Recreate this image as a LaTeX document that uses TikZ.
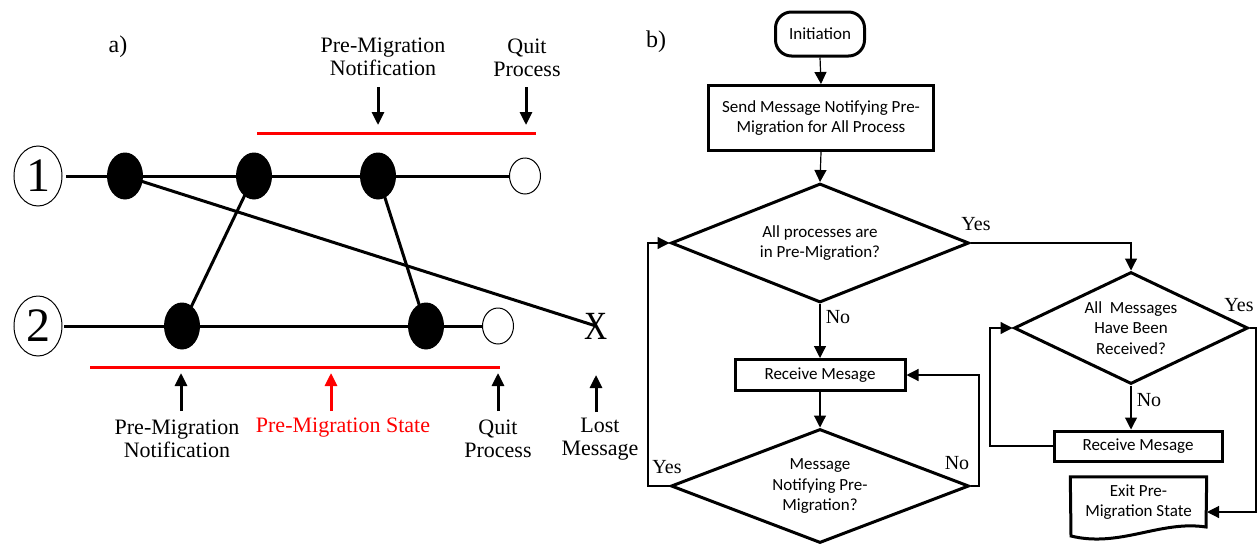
\documentclass[tikz,border=0pt]{standalone}
\usepackage{fontspec}
\setmainfont{Liberation Serif}
\newfontfamily\calibfont{Carlito}
\usetikzlibrary{arrows.meta,shapes.geometric}
\tikzset{
  thk/.style={line width=3pt},
  fdot/.style={ellipse, fill=black, minimum width=36pt, minimum height=47pt, inner sep=0pt},
  odot/.style={ellipse, draw, line width=1pt, fill=white, minimum width=31pt, minimum height=36pt, inner sep=0pt},
  pcirc/.style={ellipse, draw, line width=1pt, minimum width=48pt, minimum height=60pt, inner sep=0pt, font=\fontsize{48}{48}\selectfont},
  lab/.style={font=\fontsize{22}{23}\selectfont, align=center, inner sep=0pt},
  parr/.style={line width=3pt, -{Triangle[length=13pt,width=12pt]}},
  fbox/.style={draw, line width=3pt, rectangle, inner sep=0pt, align=center, font=\calibfont\fontsize{17}{20.5}\selectfont},
  fdia/.style={draw, line width=3pt, diamond, inner sep=0pt, align=center, font=\calibfont\fontsize{17}{20.5}\selectfont},
  conn/.style={line width=1.2pt, -{Triangle[length=12pt,width=12pt]}},
  yn/.style={font=\fontsize{20}{20}\selectfont, inner sep=0pt},
}
\begin{document}
\begin{tikzpicture}[x=1pt,y=-1pt]
\useasboundingbox (0,0) rectangle (1257,546);
% ---------------- part a ----------------
\node[font=\fontsize{24}{24}\selectfont] (la) at (118,47) {a)};
\node[pcirc] (c1) at (38,176) {1};
\node[pcirc] (c2) at (38,326) {2};
\coordinate (s1) at (66,176);
\coordinate (s2) at (64,326);
\node[odot] (o1) at (525,176) {};
\node[odot] (o2) at (498,326) {};
\node[font=\fontsize{40}{40}\selectfont, inner sep=0pt, xscale=0.8] (xx) at (596,326) {X};
\draw[thk] (s1) -- (o1.west);
\draw[thk] (s2) -- (o2.west);
\node[fdot] (d1) at (125,176) {};
\node[fdot] (d2) at (254,176) {};
\node[fdot] (d3) at (378,176) {};
\node[fdot] (e1) at (182,326) {};
\node[fdot] (e2) at (426,326) {};
\draw[thk] (d1.center) -- (xx.center);
\draw[thk] (d2.center) -- (e1.center);
\draw[thk] (d3.center) -- (e2.center);
% red lines
\coordinate (rt1) at (257,133);
\coordinate (rt2) at (536,133);
\coordinate (rb1) at (90,367);
\coordinate (rb2) at (500,367);
\draw[red, line width=3pt] (rt1) -- (rt2);
\draw[red, line width=3pt] (rb1) -- (rb2);
% top labels and arrows
\node[lab] (tn) at (383,57) {Pre-Migration\\Notification};
\node[lab] (tq) at (527,58) {Quit\\Process};
\coordinate (ta1) at (378,87); \coordinate (tb1) at (378,125);
\coordinate (ta2) at (526,87); \coordinate (tb2) at (526,125);
\draw[parr] (ta1) -- (tb1);
\draw[parr] (ta2) -- (tb2);
% bottom labels and arrows
\node[lab] (bn) at (177,439) {Pre-Migration\\Notification};
\node[lab, text=red] (bs) at (343,428) {Pre-Migration State};
\node[lab] (bq) at (498,439) {Quit\\Process};
\node[lab] (bl) at (600,439) {Lost\\Message};
\coordinate (ba1) at (181,411); \coordinate (bb1) at (181,373);
\coordinate (ba2) at (331,411); \coordinate (bb2) at (331,373);
\coordinate (ba3) at (498,411); \coordinate (bb3) at (498,373);
\coordinate (ba4) at (596,412); \coordinate (bb4) at (596,375);
\draw[parr] (ba1) -- (bb1);
\draw[parr, red] (ba2) -- (bb2);
\draw[parr] (ba3) -- (bb3);
\draw[parr] (ba4) -- (bb4);
% ---------------- part b ----------------
\node[font=\fontsize{24}{24}\selectfont] (lb) at (656,42) {b)};
\node[fbox, rounded corners=16pt, minimum width=89pt, minimum height=44pt] (init) at (820,34) {Initiation};
\node[fbox, minimum width=225pt, minimum height=65pt] (send) at (821,118) {Send Message Notifying Pre-\\Migration for All Process};
\node[fdia, aspect=2.5, minimum width=298pt, minimum height=119pt] (q1) at (820,243) {All processes are\\in Pre-Migration?};
\node[fbox, minimum width=170pt, minimum height=31pt] (r1) at (820,375) {Receive Mesage};
\node[fdia, aspect=2.6, minimum width=298pt, minimum height=114pt] (q3) at (820,486) {Message\\Notifying Pre-\\Migration?};
\node[fdia, aspect=2.1, minimum width=234pt, minimum height=112pt] (q2) at (1131,328) {All\ \ Messages\\Have Been\\Received?};
\node[fbox, minimum width=168pt, minimum height=30pt] (r2) at (1138,446) {Receive Mesage};
\node[align=center, inner sep=0pt, font=\calibfont\fontsize{17}{20.5}\selectfont, minimum width=136pt, minimum height=50pt] (ex) at (1138.5,502) {Exit Pre-\\Migration State};
\draw[line width=3pt] (ex.north west) -- (ex.north east) -- (1206,527)
   .. controls (1160,520) and (1120,548) .. (1071,536) -- cycle;
\coordinate (exin) at (1207,512);
% connectors
\draw[conn] (init.south) -- (send.north);
\draw[conn] (send.south) -- (q1.north);
\draw[conn] (q1.south) -- (r1.north);
\draw[conn] (r1.south) -- (q3.north);
\draw[conn] (q1.east) -| (q2.north);
\draw[conn] (q2.south) -- (q2.south |- r2.north);
\draw[conn] (q3.west) -- (648,486) |- (q1.west);
\draw[conn] (q3.east) -- (979,486) |- (r1.east);
\draw[conn] (r2.west) -- (990,446) |- (q2.west);
\draw[conn] (q2.east) -- (1256,328) |- (exin);
% yes/no labels
\node[yn] (y1) at (976,224) {Yes};
\node[yn] (n1) at (838,317) {No};
\node[yn] (y2) at (1239,305) {Yes};
\node[yn] (n2) at (1149,400) {No};
\node[yn] (y3) at (667,467) {Yes};
\node[yn] (n3) at (957,463) {No};
\end{tikzpicture}
\end{document}
